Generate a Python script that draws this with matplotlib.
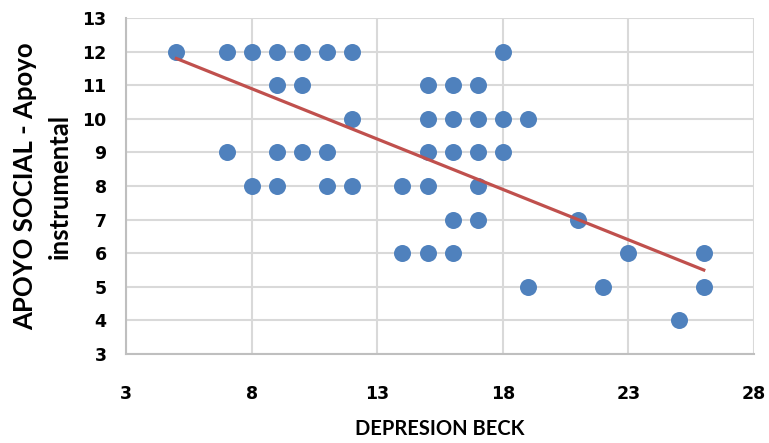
import numpy as np
import matplotlib.pyplot as plt

# Depresion Beck score vs Apoyo instrumental score
beck = np.array([5, 7, 8, 9, 10, 11, 12, 18,
                 9, 10, 15, 16, 17,
                 12, 15, 16, 17, 18, 19,
                 7, 9, 10, 11, 15, 16, 17, 18,
                 8, 9, 11, 12, 14, 15, 17,
                 16, 17, 21,
                 14, 15, 16, 23, 26,
                 19, 22, 26,
                 25])
apoyo = np.array([12] * 8 + [11] * 5 + [10] * 6 + [9] * 8 + [8] * 7
                 + [7] * 3 + [6] * 5 + [5] * 3 + [4] * 1)

# linear trend as shown in the chart
trend_slope = -0.30
trend_intercept = 13.30

x_ticks = [3, 8, 13, 18, 23, 28]
y_ticks = list(range(3, 14))

plt.rcParams['font.family'] = ['Lato', 'DejaVu Sans']

fig = plt.figure(figsize=(7.69, 4.43), dpi=100)
ax = fig.add_axes([0.164, 0.201, 0.8165, 0.758])

grid_c = '#D9D9D9'
ax.set_xlim(3, 28)
ax.set_ylim(3, 13)
ax.set_xticks(x_ticks)
ax.set_yticks(y_ticks)
ax.grid(True, color=grid_c, linewidth=1.5)
ax.set_axisbelow(True)
for side in ['top', 'right']:
    ax.spines[side].set_visible(False)
for side in ['left', 'bottom']:
    ax.spines[side].set_color('#BFBFBF')
    ax.spines[side].set_linewidth(1.5)

ax.scatter(beck, apoyo, s=150, color='#4F81BD', zorder=3, linewidths=0)

tx = np.array([beck.min(), beck.max()])
ax.plot(tx, trend_intercept + trend_slope * tx, color='#C0504D', linewidth=2.3, zorder=4)

ax.tick_params(length=0)
ax.tick_params(axis='x', pad=22)
ax.tick_params(axis='y', pad=14)
for lab in ax.get_xticklabels() + ax.get_yticklabels():
    lab.set_fontweight('bold')
    lab.set_fontfamily('DejaVu Sans')
    lab.set_fontsize(12.5)

ax.set_xlabel('DEPRESION BECK', fontsize=14.5, fontweight='bold', labelpad=12)
ax.set_ylabel('APOYO SOCIAL - Apoyo\ninstrumental', fontsize=18.5, fontweight='bold',
              labelpad=8, linespacing=1.5)

fig.savefig('out.png', dpi=100)
